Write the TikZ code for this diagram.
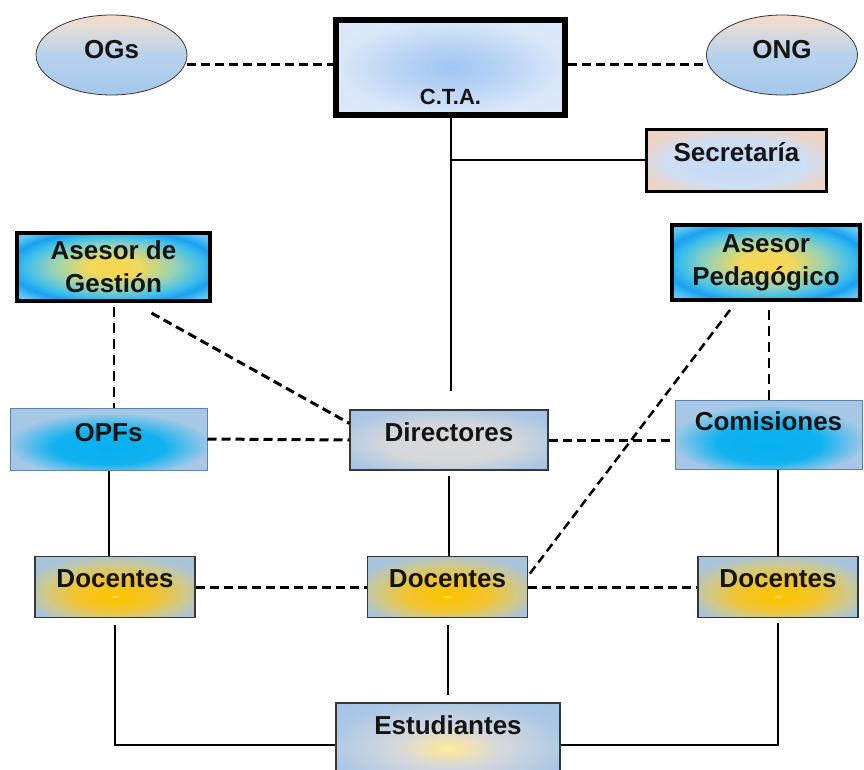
\documentclass[tikz,border=0pt]{standalone}
\usepackage{fontspec}
\setmainfont{Liberation Sans}
\usetikzlibrary{shapes.geometric}
\definecolor{txt}{RGB}{20,20,20}
\definecolor{bord}{RGB}{55,55,55}
\definecolor{lbord}{RGB}{95,130,170}
\definecolor{peach}{RGB}{244,218,200}
\definecolor{skyb}{RGB}{164,200,236}

%shadings (path box spans 25bp around the centre)
\pgfdeclareverticalshading{ovalshade}{100bp}{color(0bp)=(skyb); color(25bp)=(skyb); color(50bp)=(rgb,255:red,184;green,210;blue,236); color(68bp)=(rgb,255:red,230;green,220;blue,214); color(75bp)=(peach); color(100bp)=(peach)}
\pgfdeclareradialshading{ctashade}{\pgfpoint{0bp}{0bp}}{color(0bp)=(rgb,255:red,160;green,198;blue,244); color(8bp)=(rgb,255:red,176;green,207;blue,244); color(24bp)=(rgb,255:red,216;green,230;blue,248); color(50bp)=(rgb,255:red,226;green,236;blue,250)}
\pgfdeclareradialshading{secshade}{\pgfpoint{0bp}{-3bp}}{color(0bp)=(rgb,255:red,196;green,218;blue,246); color(19bp)=(rgb,255:red,206;green,222;blue,244); color(29bp)=(rgb,255:red,238;green,212;blue,196); color(50bp)=(rgb,255:red,242;green,205;blue,182)}
\pgfdeclareradialshading{aseshade}{\pgfpoint{0bp}{0bp}}{color(0bp)=(rgb,255:red,250;green,214;blue,76); color(7bp)=(rgb,255:red,242;green,216;blue,92); color(16bp)=(rgb,255:red,150;green,210;blue,184); color(23bp)=(rgb,255:red,60;green,190;blue,236); color(27bp)=(rgb,255:red,26;green,160;blue,240); color(32bp)=(rgb,255:red,92;green,200;blue,248); color(50bp)=(rgb,255:red,92;green,200;blue,248)}
\pgfdeclareradialshading{cyanshade}{\pgfpoint{0bp}{-9bp}}{color(0bp)=(rgb,255:red,8;green,176;blue,240); color(14bp)=(rgb,255:red,16;green,178;blue,239); color(26bp)=(rgb,255:red,166;green,200;blue,230); color(50bp)=(rgb,255:red,166;green,200;blue,230)}
\pgfdeclareradialshading{dirshade}{\pgfpoint{0bp}{-4bp}}{color(0bp)=(rgb,255:red,218;green,218;blue,218); color(16bp)=(rgb,255:red,214;green,215;blue,218); color(30bp)=(rgb,255:red,168;green,198;blue,230); color(50bp)=(rgb,255:red,160;green,194;blue,228)}
\pgfdeclareradialshading{docshade}{\pgfpoint{0bp}{-8bp}}{color(0bp)=(rgb,255:red,255;green,234;blue,170); color(1.5bp)=(rgb,255:red,252;green,196;blue,0); color(13bp)=(rgb,255:red,242;green,196;blue,48); color(22bp)=(rgb,255:red,206;green,200;blue,138); color(30bp)=(rgb,255:red,168;green,196;blue,220); color(50bp)=(rgb,255:red,168;green,196;blue,220)}
\pgfdeclareradialshading{estshade}{\pgfpoint{0bp}{-2bp}}{color(0bp)=(rgb,255:red,253;green,233;blue,160); color(3bp)=(rgb,255:red,246;green,228;blue,168); color(12bp)=(rgb,255:red,212;green,216;blue,220); color(28bp)=(rgb,255:red,168;green,198;blue,230); color(50bp)=(rgb,255:red,160;green,194;blue,228)}

\begin{document}
\begin{tikzpicture}[x=1pt,y=-1pt,
  lbl/.style={font=\fontsize{26}{33}\selectfont\bfseries, text=txt, align=center, inner sep=0pt},
  oval/.style={lbl, ellipse, draw=bord, line width=0.8pt, shading=ovalshade, minimum width=151pt, minimum height=80pt, text height=18pt, text depth=10pt},
  ctabox/.style={lbl, font=\fontsize{22}{26}\selectfont\bfseries, draw=black, line width=6pt, shading=ctashade, minimum width=229pt, minimum height=95pt, text height=75pt, text depth=0pt},
  secbox/.style={lbl, draw=black, line width=3pt, shading=secshade, minimum width=180pt, minimum height=62pt, text height=18pt, text depth=15pt},
  asebox/.style={lbl, draw=black, line width=4pt, shading=aseshade},
  cyanbox/.style={lbl, draw=lbord, line width=1pt, shading=cyanshade},
  dirbox/.style={lbl, draw=bord, line width=1.2pt, shading=dirshade, minimum width=198pt, minimum height=60pt, text height=18pt, text depth=16pt},
  docbox/.style={lbl, draw=bord, line width=1.2pt, shading=docshade, minimum width=\dw pt, minimum height=61pt, text height=18pt, text depth=17pt},
  estbox/.style={lbl, draw=bord, line width=1.2pt, shading=estshade, minimum width=224pt, minimum height=84pt, text height=18pt, text depth=40pt},
  ln/.style={line width=2pt},
  dsh/.style={line width=3pt, dash pattern=on 9pt off 5pt},
  vdsh/.style={line width=2pt, dash pattern=on 10pt off 6pt}
]
\def\dw{160} %width of docentes boxes

\useasboundingbox (0,0) rectangle (864,770);

%top row
\node[oval] (ogs) at (111.5,55) {OGs};
\node[oval] (ong) at (782,55) {ONG};
\node[ctabox] (cta) at (450.5,67.5) {C.T.A.};
\node[secbox] (sec) at (736.5,160.5) {Secretaría};

%asesores
\node[asebox, minimum width=193pt, minimum height=68pt] (ag) at (113.5,267) {Asesor de\\Gestión};
\node[asebox, minimum width=188pt, minimum height=75pt] (ap) at (766,262.5) {Asesor\\Pedagógico};

%middle row
\node[cyanbox, minimum width=197pt, minimum height=62pt, text height=18pt, text depth=14pt] (opf) at (108.5,439) {OPFs};
\node[dirbox] (dir) at (449,440) {Directores};
\node[cyanbox, minimum width=187pt, minimum height=69pt, text height=18pt, text depth=26pt] (com) at (768.5,434.5) {Comisiones};

%docentes
\node[docbox] (dl) at (115,587) {Docentes};
\node[docbox] (dm) at (447.5,587) {Docentes};
\node[docbox] (dr) at (778,587) {Docentes};

%estudiantes
\node[estbox] (est) at (448,745) {Estudiantes};

%c.t.a. links
\coordinate (ogsr) at ([yshift=-10pt]ogs.east);
\coordinate (ongl) at ([yshift=-10pt]ong.west);
\draw[dsh] (ogsr) -- (ogsr -| cta.west);
\draw[dsh] (ongl -| cta.east) -- (ongl);
\draw[ln, shorten >=18pt] (cta.south) -- (cta.south |- dir.north);
\draw[ln] (cta.south |- sec.west) -- (sec.west);

%asesor links
\draw[vdsh, shorten <=4pt] (ag.south) -- (ag.south |- opf.north);
\draw[dsh] ([xshift=38pt,yshift=-10pt]ag.south) -- ([yshift=-14pt]dir.north west);
\draw[vdsh, shorten <=8pt] (ap.south -| com.north) -- (com.north);
\draw[dsh, line width=2.5pt] ([xshift=-36pt,yshift=-8pt]ap.south) -- ([yshift=-20pt]dm.north east);

%horizontal links
\draw[dsh] (opf.east) -- (dir.west);
\draw[dsh] (dir.east) -- (dir.east -| com.west);
\draw[dsh] (dl.east) -- (dm.west);
\draw[dsh] (dm.east) -- (dr.west);

%vertical links
\draw[ln] (opf.south) -- (opf.south |- dl.north);
\draw[ln, shorten <=5pt] (dir.south) -- (dir.south |- dm.north);
\draw[ln] (com.south -| dr.north) -- (dr.north);
\draw[ln, shorten <=7pt] (dl.south) -- (dl.south |- est.west) -- (est.west);
\draw[ln, shorten <=7pt, shorten >=7pt] (dm.south) -- (dm.south |- est.north);
\draw[ln, shorten <=5pt] (dr.south) -- (dr.south |- est.east) -- (est.east);

\end{tikzpicture}
\end{document}
